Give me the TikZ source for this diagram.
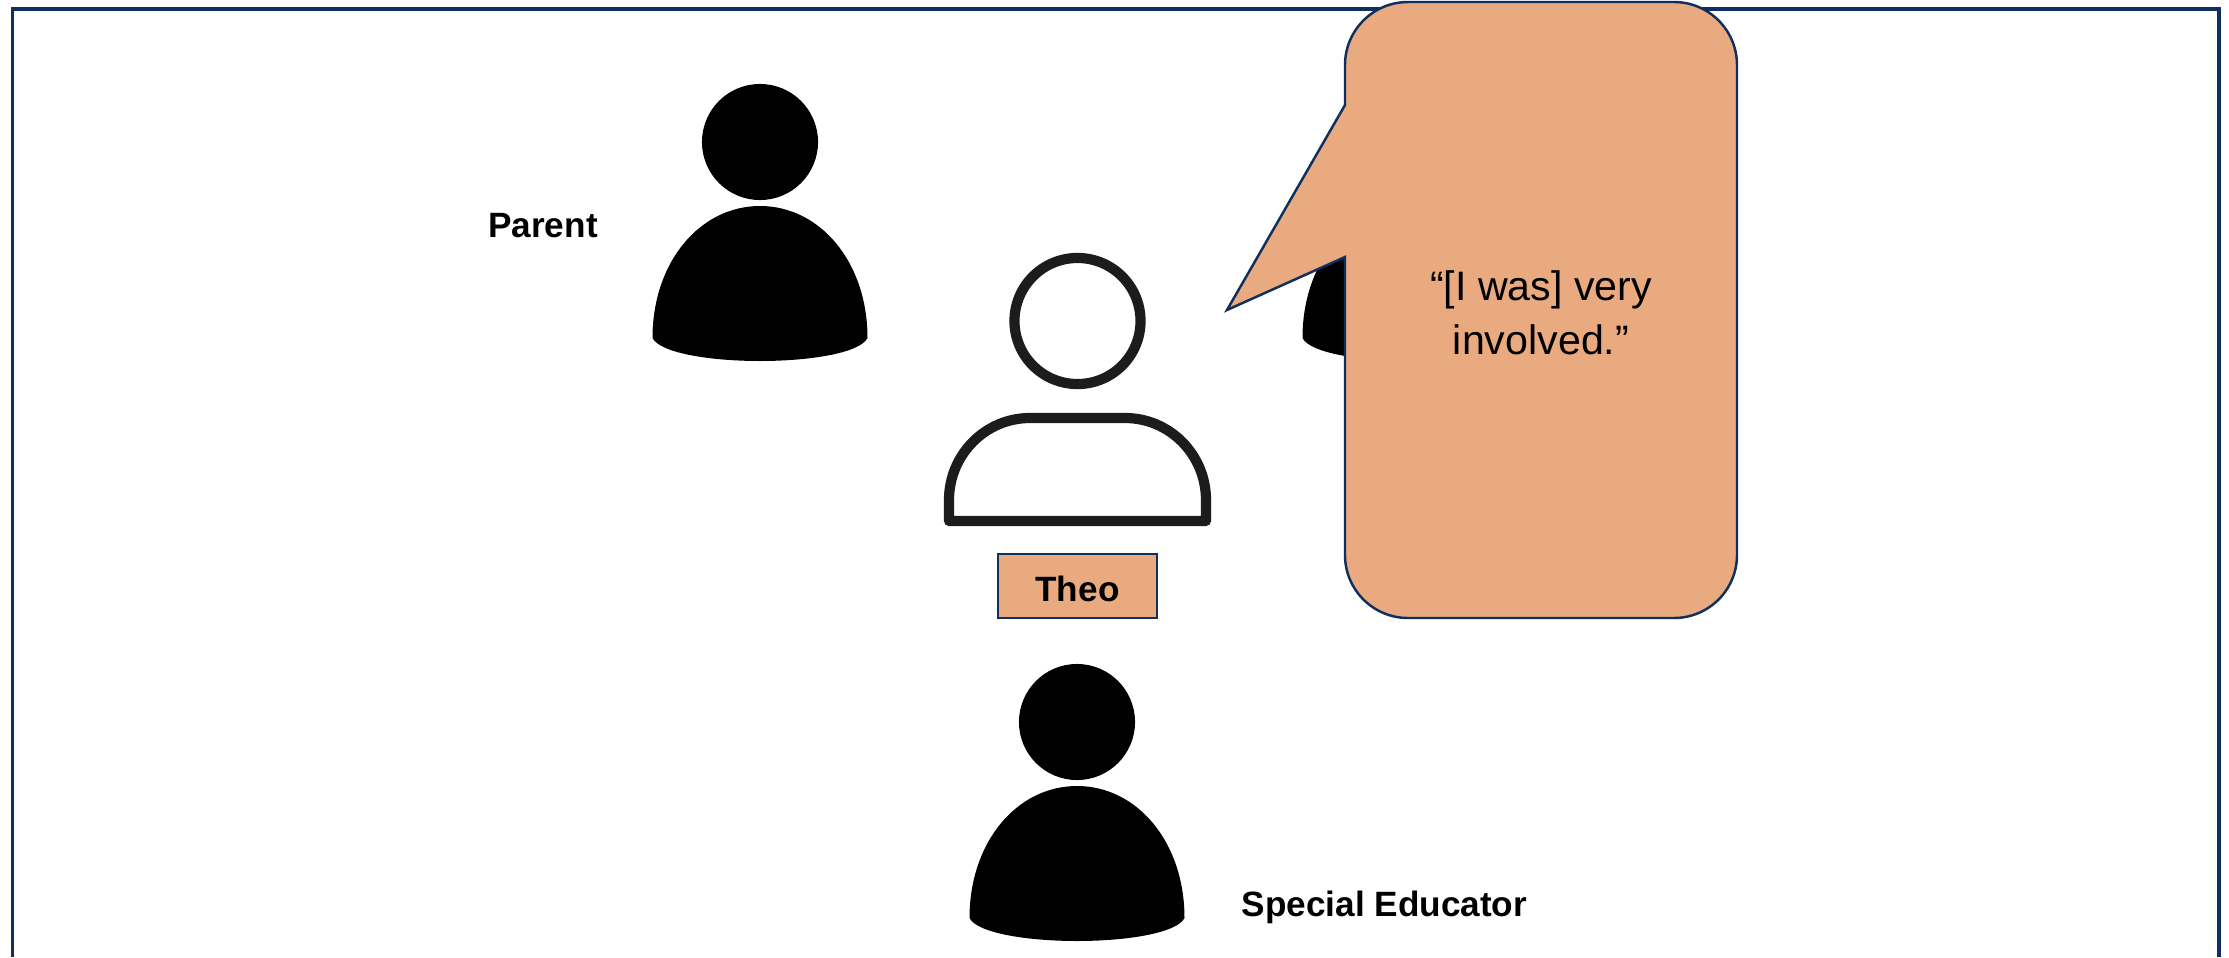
\documentclass[tikz,border=0pt]{standalone}
\usepackage{fontspec}
\setmainfont{Liberation Sans}
\definecolor{frame_blue}{RGB}{15,48,94}
\definecolor{node_orange}{RGB}{233,170,128}
\definecolor{icon_gray}{RGB}{29,27,30}
\begin{document}
\begin{tikzpicture}[x=0.01cm,y=-0.01cm]
    \tikzstyle{label}=[text=black,font=\fontsize{10pt}{12pt}\selectfont\bfseries,inner sep=0pt]
    \tikzstyle{quote}=[text=black,font=\fontsize{11.7pt}{15.2pt}\selectfont,align=center,inner sep=0pt]
    \tikzstyle{namebox}=[draw=frame_blue,line width=0.7pt,fill=node_orange,inner sep=0pt,minimum width=1.59cm,minimum height=0.64cm]
    \tikzstyle{head}=[draw=none,fill=black,circle,inner sep=0pt,minimum size=1.16cm]
    \tikzstyle{hollow}=[draw=icon_gray,line width=2.9pt,fill=none,circle,inner sep=0pt,minimum size=1.26cm]
    \useasboundingbox (0,0) rectangle (2229,957);
    \draw[frame_blue,line width=0.9pt] (12.5,957) -- (12.5,9) -- (2219,9) -- (2219,957);

    % people in black
    \foreach \name/\cx/\cy in {parent/760/0,teacher/1410/0,educator/1077/580}{
      \node[head] (\name_head) at (\cx,142+\cy) {};
      \fill[black] (\cx-107.5,338+\cy) .. controls (\cx-107.5,262+\cy) and (\cx-60,206+\cy) .. (\cx,206+\cy)
        .. controls (\cx+60,206+\cy) and (\cx+107.5,262+\cy) .. (\cx+107.5,338+\cy)
        .. controls (\cx+100,353+\cy) and (\cx+50,361+\cy) .. (\cx,361+\cy)
        .. controls (\cx-50,361+\cy) and (\cx-100,353+\cy) .. (\cx-107.5,338+\cy) -- cycle;
    }

    % Theo in outline
    \node[hollow] (theo_head) at (1077.5,321) {};
    \draw[icon_gray,line width=2.9pt,line join=round] (949,521) -- (949,500)
      .. controls (949,455) and (985,418) .. (1030,418) -- (1125,418)
      .. controls (1170,418) and (1206,455) .. (1206,500) -- (1206,521) -- cycle;
    \node[namebox] (theo) at (1077.5,586) {};
    \node[label] (theo_l) at (1077.5,589) {Theo};

    \node[label] (parent_l) at (543,226) {Parent};
    \node[label] (educator_l) at (1384.5,907) {Special Educator};

    % speech bubble
    \draw[frame_blue,line width=0.7pt,fill=node_orange] (1345,105) -- (1345,65)
      arc[start angle=180,end angle=270,radius=63] -- (1674,2)
      arc[start angle=270,end angle=360,radius=63] -- (1737,555)
      arc[start angle=0,end angle=90,radius=63] -- (1408,618)
      arc[start angle=90,end angle=180,radius=63] -- (1345,257) -- (1227,310) -- cycle;
    \node[quote] (quote) at (1541,313) {“[I was] very\\involved.”};
\end{tikzpicture}
\end{document}
